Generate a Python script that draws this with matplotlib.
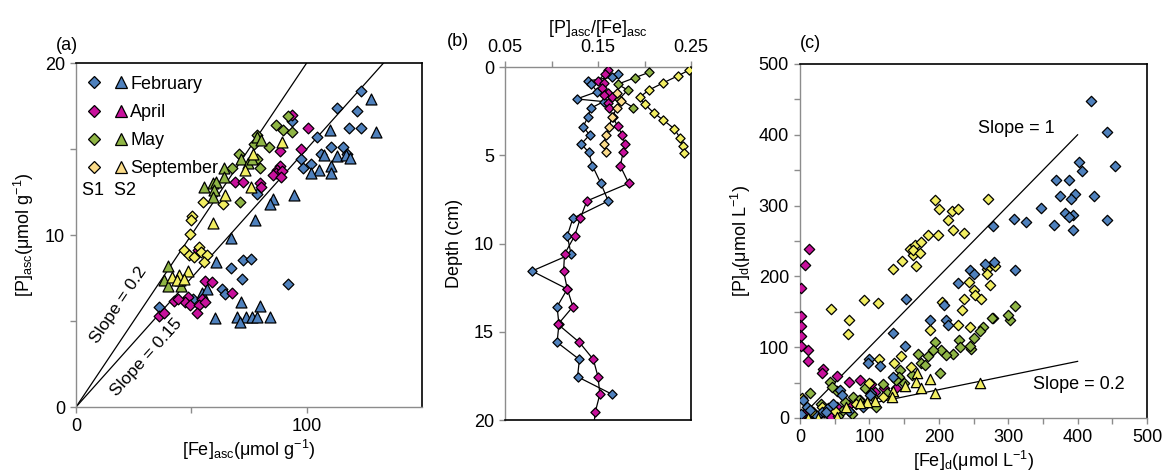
import matplotlib
matplotlib.use("Agg")
import matplotlib.pyplot as plt
from matplotlib.legend_handler import HandlerTuple
from matplotlib.lines import Line2D

plt.rcParams['font.family'] = ['Liberation Sans', 'DejaVu Sans']
plt.rcParams['mathtext.fontset'] = 'custom'
plt.rcParams['mathtext.rm'] = 'Liberation Sans'
plt.rcParams['mathtext.it'] = 'Liberation Sans:italic'
plt.rcParams['font.size'] = 13

# colours per month
months = ['February', 'April', 'May', 'September']
colors = {'February': '#4f81bd', 'April': '#c8119c', 'May': '#8fb545', 'September': '#f2ee62'}
sep_pale = '#fbdc8a'

# ---------- panel (a): [P]asc vs [Fe]asc, S1 diamonds, S2 triangles ----------
feb_s1_fe = [123.5, 122, 118.4, 123.5, 113.3, 104.6, 110.4, 115.8, 106, 97.4, 98.4, 101.7, 93.8, 78.3,
             72.5, 75.7, 67, 72, 92, 63.3, 64.5, 35.8, 50.7, 117.7]
feb_s1_p = [18.4, 17.2, 16.2, 16.2, 17.4, 15.7, 15.1, 15.1, 14.7, 14.4, 13.9, 14.1, 16.6, 12.4,
            8.55, 8.58, 8.06, 7.42, 7.13, 6.84, 6.55, 5.8, 6.26, 14.7]
feb_s2_fe = [127.8, 130, 110.1, 107.5, 113, 117, 119, 105.4, 102, 110.4, 110.4, 94.5, 85.5, 84.3, 77.4,
             67, 60.7, 60.1, 71.6, 79.7, 69.9, 73.8, 76.4, 78.6, 84.3, 71.3, 54.6, 56.8]
feb_s2_p = [17.9, 16.0, 16.1, 14.65, 14.6, 14.65, 14.5, 13.8, 13.6, 14.0, 13.6, 12.3, 12.1, 11.8, 10.9,
            9.8, 8.45, 5.15, 6.09, 5.87, 5.25, 5.25, 5.25, 5.25, 5.25, 4.96, 6.65, 6.84]
apr_s1_fe = [93.8, 100.7, 97.4, 88.4, 88.4, 87.2, 86.5, 89.4, 85.5, 88.7, 79.7, 80, 68.8, 72.5, 52.9,
             56.1, 59, 67.7, 54.6, 48.4, 47.4, 49.6, 53.2, 56.1, 52.5, 42.3, 44.2, 35.8, 38]
apr_s1_p = [17.0, 16.2, 15.0, 14.9, 14.0, 13.8, 13.6, 13.7, 13.5, 13.4, 13.0, 12.8, 13.1, 13.1, 9.13,
            7.3, 7.24, 6.65, 6.3, 6.37, 6.13, 5.93, 5.93, 6.13, 5.44, 6.18, 6.26, 5.29, 5.44]
apr_s2_fe = []
apr_s2_p = []
may_s1_fe = [86.5, 91.9, 89.7, 93.5, 78.3, 83.6, 70.6, 78.6, 79.6, 67.7, 71, 77]
may_s1_p = [16.4, 16.9, 16.1, 16.0, 15.8, 15.1, 14.7, 14.4, 13.9, 13.9, 11.9, 15.3]
may_s2_fe = [78.6, 80.4, 71.7, 74.6, 76.4, 64, 64.3, 59.4, 60.9, 55.3, 59.7, 59.2, 40.1, 38, 39.8, 45.7, 45.2]
may_s2_p = [15.7, 15.5, 14.4, 14.2, 14.4, 13.9, 13.4, 13.0, 13.1, 12.8, 12.6, 12.2, 8.2, 7.38, 7.03, 7.03, 7.38]
sep_s1_fe = [55.1, 63.8, 50.3, 49.8, 49.6, 47, 53.2, 54.3, 56.8, 48.8, 51.3, 55.7]
sep_s1_p = [11.9, 11.8, 11.1, 10.9, 10.06, 9.13, 9.3, 9.0, 8.84, 8.84, 8.74, 8.45]
sep_s2_fe = [89.4, 76.7, 73.2, 75.7, 64.8, 59.4, 48.4, 44.5, 41.6, 44, 46.7]
sep_s2_p = [15.4, 14.7, 13.8, 12.8, 12.3, 10.7, 7.9, 7.67, 7.57, 7.38, 7.42]

slopes_a = [0.2, 0.15]
fe_line_a = [0, 150]

# ---------- panel (b): ratio profiles ----------
feb_depth = [0.4, 0.58, 0.79, 0.98, 1.4, 1.81, 1.96, 2.34, 2.85, 3.38, 3.85, 4.36, 4.83, 5.59, 6.59, 7.59,
             8.57, 9.56, 10.6, 11.56, 12.58, 13.58, 14.58, 15.6, 16.57, 17.55, 18.54]
feb_ratio = [0.172, 0.165, 0.139, 0.143, 0.149, 0.127, 0.156, 0.142, 0.139, 0.134, 0.141, 0.132, 0.14,
             0.144, 0.153, 0.161, 0.123, 0.117, 0.121, 0.079, 0.117, 0.106, 0.108, 0.106, 0.13, 0.128, 0.165]
apr_depth = [0.17, 0.41, 0.78, 0.92, 1.21, 1.45, 1.59, 1.68, 2.02, 2.34, 2.85, 3.34, 3.85, 4.36, 4.83,
             5.61, 6.59, 7.59, 8.57, 9.56, 10.6, 11.56, 12.58, 13.58, 14.58, 15.6, 16.57, 17.55, 18.54,
             19.56, 20.6]
apr_ratio = [0.161, 0.157, 0.15, 0.156, 0.154, 0.161, 0.156, 0.165, 0.161, 0.162, 0.166, 0.171, 0.176,
             0.179, 0.177, 0.174, 0.183, 0.138, 0.131, 0.125, 0.114, 0.113, 0.117, 0.123, 0.107, 0.13,
             0.145, 0.15, 0.152, 0.147, 0.145]
may_depth = [0.3, 0.6, 0.98, 1.3, 1.81, 2.3]
may_ratio = [0.205, 0.19, 0.171, 0.182, 0.173, 0.188]
sep1_depth = [1.5, 1.9, 2.34, 2.85, 3.38, 3.85, 4.36, 4.83]
sep1_ratio = [0.17, 0.175, 0.17, 0.165, 0.162, 0.159, 0.156, 0.159]
sep2_depth = [0.17, 0.5, 0.9, 1.3, 1.7, 2.1, 2.6, 3.0, 3.5, 4.0, 4.5, 4.9]
sep2_ratio = [0.248, 0.236, 0.22, 0.205, 0.195, 0.2, 0.21, 0.22, 0.232, 0.238, 0.241, 0.243]

# ---------- panel (c): [P]d vs [Fe]d ----------
feb_c_fe = [419, 443, 454, 402, 406, 369, 387, 424, 375, 396, 391, 347, 382, 394, 388, 443, 308, 326, 366,
            394, 278, 280, 267, 310, 245, 251, 228, 153, 207, 210, 213, 187, 134, 152, 100, 98, 115, 134,
            58, 103, 5, 10, 31, 91, 2, 15, 25, 40, 70, 48, 38, 101, 60]
feb_c_p = [448, 404, 356, 361, 349, 336, 336, 314, 313, 316, 310, 296, 290, 287, 284, 279, 281, 277, 273,
           266, 271, 221, 218, 209, 209, 204, 191, 168, 160, 138, 132, 138, 120, 102, 83, 78, 73, 58,
           40, 35, 25, 16, 9, 16, 5, 12, 3, 14, 10, 20, 9, 32, 33]
apr_c_fe = [13, 7.2, 1.4, 1.4, 1.4, 1.4, 1.4, 12, 12, 33.6, 31, 53, 86, 71, 103, 108, 121, 86, 70, 53,
            17, 5, 0.5, 45, 10, 138, 19]
apr_c_p = [238, 216, 183, 144, 130, 116, 102, 96, 80, 69, 64, 59, 53, 51, 48, 37, 43, 26, 18, 15,
           7.5, 4, 1, 2, 10, 43, 9]
may_c_fe = [310, 302, 299, 278, 264, 259, 251, 247, 229, 221, 211, 202, 203, 195, 191, 185, 175, 170, 161,
            144, 142, 120, 94, 77, 65, 53, 43, 14, 30, 45, 60, 85, 105, 125, 20, 35, 55, 75, 110, 150,
            180, 230, 46, 139, 245, 277]
may_c_p = [158, 138, 145, 141, 129, 123, 113, 98, 110, 91, 89, 63, 96, 108, 96, 87, 77, 91, 61,
           68, 58, 48, 42, 30, 23, 38, 51, 36, 20, 15, 10, 25, 30, 35, 5, 8, 3, 5, 15, 50,
           75, 100, 44, 54, 101, 141]
sep_c_fe = [194, 271, 200, 219, 227, 213, 220, 237, 185, 199, 158, 163, 166, 174, 163, 173, 167, 147, 134,
            112, 92, 44, 70, 69, 243, 236, 234, 204, 245, 250, 252, 261, 274, 269, 281, 270, 227, 188,
            160, 114, 136, 146, 2.4, 31, 50, 20, 80, 120, 100]
sep_c_p = [308, 309, 295, 293, 295, 280, 266, 261, 259, 259, 238, 230, 244, 248, 237, 233, 215, 222, 211,
           162, 166, 154, 139, 118, 192, 168, 152, 164, 129, 181, 174, 168, 188, 211, 215, 204, 132, 124,
           72, 84, 78, 88, 28, 16, 10, 5, 20, 30, 50]
sep_c2_fe = [260, 194, 187, 168, 167, 174, 151, 134, 132, 108, 96, 86, 67, 53, 26, 12]
sep_c2_p = [50, 35, 55, 64, 51, 42, 45, 38, 30, 24, 23, 21, 15, 2, 0, 0]

slopes_c = [1, 0.2]
fe_line_c = [0, 400]

W, H = 1171, 472
fig = plt.figure(figsize=(W / 100, H / 100), dpi=100)


def box(l, r, t, b):
    return [l / W, (H - b) / H, (r - l) / W, (b - t) / H]


grey = '#8c8c8c'
dk = dict(edgecolors='black', linewidths=0.9, zorder=3)


def style(ax, grey_sides):
    for side, sp in ax.spines.items():
        sp.set_color(grey if side in grey_sides else 'black')
        sp.set_linewidth(1.0 if side in grey_sides else 1.2)
    ax.tick_params(which='both', direction='out', color=grey, length=4, width=1, labelsize=13, pad=4)


# ---- (a)
ax = fig.add_axes(box(76, 422, 63, 407))
style(ax, ['left', 'bottom'])
for s in slopes_a:
    ax.plot(fe_line_a, [s * v for v in fe_line_a], color='black', lw=0.9, zorder=2)
groups = [
    (feb_s1_fe, feb_s1_p, feb_s2_fe, feb_s2_p, 'February'),
    (apr_s1_fe, apr_s1_p, apr_s2_fe, apr_s2_p, 'April'),
    (may_s1_fe, may_s1_p, may_s2_fe, may_s2_p, 'May'),
    (sep_s1_fe, sep_s1_p, sep_s2_fe, sep_s2_p, 'September'),
]
handles = []
for x1, y1, x2, y2, m in groups:
    ax.scatter(x1, y1, marker='D', s=30, color=colors[m], **dk)
    ax.scatter(x2, y2, marker='^', s=62, color=colors[m], **dk)
    lc = sep_pale if m == 'September' else colors[m]
    hd = Line2D([], [], marker='D', ls='', ms=6.5, mfc=lc, mec='black', mew=0.9)
    ht = Line2D([], [], marker='^', ls='', ms=9, mfc=lc, mec='black', mew=0.9)
    handles.append((hd, ht))
ax.legend(handles, months, handler_map={tuple: HandlerTuple(ndivide=None, pad=0.9)},
          loc='upper left', frameon=False, fontsize=13, handlelength=2.1, handletextpad=0.2,
          labelspacing=0.62, borderaxespad=0.3, borderpad=0.4)
ax.text(0.017, 0.63, 'S1  S2', transform=ax.transAxes, fontsize=13, va='center', ha='left')
ax.text(18.3, 5.9, 'Slope = 0.2', rotation=56, ha='center', va='center', fontsize=12.5)
ax.text(30.5, 2.9, 'Slope = 0.15', rotation=48, ha='center', va='center', fontsize=12.5)
ax.set_xlim(0, 150)
ax.set_ylim(0, 20)
ax.set_xticks([0, 100])
ax.set_xticks([50], minor=True)
ax.set_yticks([0, 10, 20])
ax.set_yticks([5, 15], minor=True)
ax.set_xlabel('[Fe]$_{\\mathrm{asc}}$(μmol g$^{-1}$)', fontsize=13, labelpad=2)
ax.set_ylabel('[P]$_{\\mathrm{asc}}$(μmol g$^{-1}$)', fontsize=13, labelpad=6)
fig.text(56 / W, 1 - 45 / H, '(a)', fontsize=13, va='center')

# ---- (b)
ax = fig.add_axes(box(505, 691, 67, 420))
style(ax, ['left', 'top'])
ax.xaxis.tick_top()
ax.xaxis.set_label_position('top')
prof = [(feb_ratio, feb_depth, colors['February']), (apr_ratio, apr_depth, colors['April']),
        (may_ratio, may_depth, colors['May']), (sep1_ratio, sep1_depth, sep_pale),
        (sep2_ratio, sep2_depth, colors['September'])]
for r, d, c in prof:
    ax.plot(r, d, color='black', lw=0.9, zorder=2)
    ax.scatter(r, d, marker='D', s=22, color=c, **dk)
ax.set_xlim(0.05, 0.25)
ax.set_ylim(20, 0)
ax.set_xticks([0.05, 0.15, 0.25])
ax.set_xticklabels(['0.05', '0.15', '0.25'])
ax.set_xticks([0.1, 0.2], minor=True)
ax.set_yticks([0, 5, 10, 15, 20])
ax.set_xlabel('[P]$_{\\mathrm{asc}}$/[Fe]$_{\\mathrm{asc}}$', fontsize=13, labelpad=4)
ax.set_ylabel('Depth (cm)', fontsize=13, labelpad=8)
fig.text(458 / W, 1 - 42 / H, '(b)', fontsize=13, va='center', ha='center')

# ---- (c)
ax = fig.add_axes(box(800, 1147, 64, 418))
style(ax, ['left', 'bottom'])
for s in slopes_c:
    ax.plot(fe_line_c, [s * v for v in fe_line_c], color='black', lw=0.9, zorder=2)
ax.scatter(apr_c_fe, apr_c_p, marker='D', s=28, color=colors['April'], **dk)
ax.scatter(may_c_fe, may_c_p, marker='D', s=28, color=colors['May'], **dk)
ax.scatter(sep_c_fe, sep_c_p, marker='D', s=28, color=colors['September'], **dk)
ax.scatter(feb_c_fe, feb_c_p, marker='D', s=28, color=colors['February'], **dk)
ax.scatter(sep_c2_fe, sep_c2_p, marker='^', s=55, color=colors['September'], **dk)
ax.text(312, 409, 'Slope = 1', ha='center', va='center', fontsize=13)
ax.text(402, 48, 'Slope = 0.2', ha='center', va='center', fontsize=13)
ax.set_xlim(0, 500)
ax.set_ylim(0, 500)
ax.set_xticks(range(0, 501, 100))
ax.set_xticks(range(50, 500, 100), minor=True)
ax.set_yticks(range(0, 501, 100))
ax.set_yticks(range(50, 500, 100), minor=True)
ax.set_xlabel('[Fe]$_{\\mathrm{d}}$(μmol L$^{-1}$)', fontsize=13, labelpad=2)
ax.set_ylabel('[P]$_{\\mathrm{d}}$(μmol L$^{-1}$)', fontsize=13, labelpad=4)
fig.text(800 / W, 1 - 43 / H, '(c)', fontsize=13, va='center')

fig.savefig('out.png', dpi=100)
